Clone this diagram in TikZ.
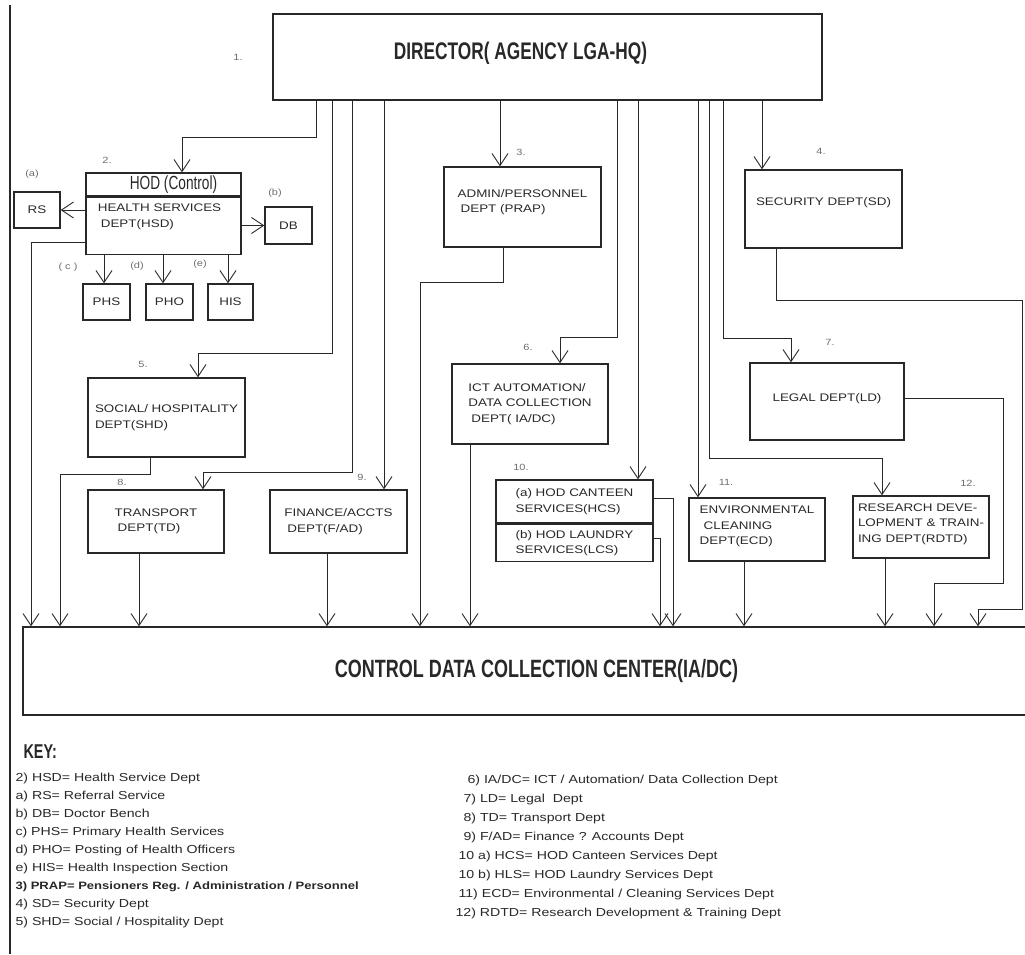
\documentclass[tikz,border=0pt]{standalone}
\usepackage{fontspec}
\setmainfont{Liberation Sans}[FakeStretch=1.22]
\newfontfamily\condfont{Liberation Sans}[FakeStretch=0.72]
\usepackage{tikz}
\usetikzlibrary{arrows.meta,positioning}
\usepackage{xcolor}
\definecolor{orgline}{RGB}{40,40,40}
\definecolor{orgnum}{RGB}{110,110,110}
\tikzstyle{arrow} = [line width=0.9pt, color=orgline, -{Straight Barb[length=12pt,width=16pt]}]
\tikzstyle{dept} = [rectangle, draw=orgline, line width=1.4pt, inner sep=3pt, align=left, text=orgline, font=\fontsize{11}{15.5}\selectfont]
\tikzstyle{num} = [text=orgnum, font=\fontsize{9}{10}\selectfont]
\tikzstyle{keytext} = [anchor=north west, align=left, text=orgline, font=\fontsize{11.6}{18}\selectfont]

\begin{document}
\begin{tikzpicture}[x=1pt, y=-1pt]
    \useasboundingbox (0,0) rectangle (1025,954);
    \draw[line width=1.3pt, color=orgline] (10,5) -- (10,954);

    % Nodes
    \node[dept, minimum width=549pt, minimum height=86pt, align=center, text depth=12pt, font=\condfont\bfseries\fontsize{24}{28}\selectfont] (dir) at (547.5,57) {DIRECTOR( AGENCY LGA-HQ)\hspace*{54pt}};
    \node[dept, minimum width=155pt, minimum height=23pt, inner ysep=1pt, font=\condfont\fontsize{19}{20}\selectfont] (hod) at (163.5,184.5) {\hspace*{20pt}HOD (Control)};
    \node[dept, minimum width=155pt, minimum height=57pt, text depth=20pt, below=0pt of hod] (hsd) {HEALTH SERVICES\hspace*{8pt}\\\hspace*{3pt}DEPT(HSD)};
    \node[dept, minimum width=46pt, minimum height=36pt] (rs) at (37,210) {RS};
    \node[dept, minimum width=47pt, minimum height=37pt] (db) at (288.5,225.5) {DB};
    \node[dept, minimum width=47pt, minimum height=36pt] (phs) at (106.5,302) {PHS};
    \node[dept, minimum width=47pt, minimum height=36pt] (pho) at (169.5,302) {PHO};
    \node[dept, minimum width=45pt, minimum height=36pt] (his) at (230.5,302) {HIS};
    \node[dept, minimum width=157pt, minimum height=80pt, text depth=12pt] (prap) at (522.5,207) {ADMIN/PERSONNEL\\\hspace*{3pt}DEPT (PRAP)};
    \node[dept, minimum width=157pt, minimum height=78pt, text depth=14pt] (sd) at (823.5,209) {SECURITY DEPT(SD)};
    \node[dept, minimum width=157pt, minimum height=79pt] (shd) at (166.5,417.5) {SOCIAL/ HOSPITALITY\\DEPT(SHD)};
    \node[dept, minimum width=156pt, minimum height=80pt] (ict) at (530,404) {ICT AUTOMATION/\\DATA COLLECTION\\\hspace*{3pt}DEPT( IA/DC)};
    \node[dept, minimum width=154pt, minimum height=77pt, text depth=8pt] (ld) at (827,401.5) {LEGAL DEPT(LD)};
    \node[dept, minimum width=136pt, minimum height=63pt] (td) at (156,521.5) {TRANSPORT\\\hspace*{3pt}DEPT(TD)};
    \node[dept, minimum width=137pt, minimum height=63pt] (fad) at (338.5,521.5) {FINANCE/ACCTS\\\hspace*{3pt}DEPT(F/AD)};
    \node[dept, minimum width=157pt, minimum height=43pt] (hcs) at (574.5,501.5) {(a) HOD CANTEEN\\SERVICES(HCS)};
    \node[dept, minimum width=157pt, minimum height=37pt, inner ysep=1pt, below=0pt of hcs] (lcs) {(b) HOD LAUNDRY\\SERVICES(LCS)};
    \node[dept, minimum width=136pt, minimum height=63pt, text depth=8pt] (ecd) at (757,529.5) {ENVIRONMENTAL\\\hspace*{4pt}CLEANING\\DEPT(ECD)};
    \node[dept, minimum width=136pt, minimum height=62pt, text depth=8pt] (rdtd) at (921,527) {RESEARCH DEVE-\\LOPMENT \& TRAIN-\\ING DEPT(RDTD)};
    \node[dept, minimum width=1007pt, minimum height=88pt, align=center, font=\condfont\bfseries\fontsize{25}{28}\selectfont] (cdc) at (526.5,671) {\hspace*{20pt}CONTROL DATA COLLECTION CENTER(IA/DC)};

    % Numbers
    \node[num] (n1) at (238,57) {1.};
    \node[num] (n2) at (107,160) {2.};
    \node[num] (na) at (32,174) {(a)};
    \node[num] (nb) at (275,193) {(b)};
    \node[num] (nc) at (68,267) {( c )};
    \node[num] (nd) at (137,266) {(d)};
    \node[num] (ne) at (200,264) {(e)};
    \node[num] (n3) at (521,152) {3.};
    \node[num] (n4) at (821,151) {4.};
    \node[num] (n5) at (143,364) {5.};
    \node[num] (n6) at (528,347) {6.};
    \node[num] (n7) at (830,342) {7.};
    \node[num] (n8) at (122,482) {8.};
    \node[num] (n9) at (362,477) {9.};
    \node[num] (n10) at (521,467) {10.};
    \node[num] (n11) at (726,482) {11.};
    \node[num] (n12) at (968,483) {12.};

    % Arrows from the director
    \draw[arrow] (dir.south -| 316,0) -- (316,137) -- (182,137) -- (hod.north -| 182,0);
    \draw[arrow] (dir.south -| 332,0) -- (332,353) -- (198,353) -- (shd.north -| 198,0);
    \draw[arrow] (dir.south -| 352,0) -- (352,472) -- (203,472) -- (td.north -| 203,0);
    \draw[arrow] (dir.south -| 384,0) -- (fad.north -| 384,0);
    \draw[arrow] (dir.south -| 500,0) -- (prap.north -| 500,0);
    \draw[arrow] (dir.south -| 617,0) -- (617,337) -- (560,337) -- (ict.north -| 560,0);
    \draw[arrow] (dir.south -| 638,0) -- (hcs.north -| 638,0);
    \draw[arrow] (dir.south -| 698,0) -- (ecd.north -| 698,0);
    \draw[arrow] (dir.south -| 709,0) -- (709,458) -- (882,458) -- (rdtd.north -| 882,0);
    \draw[arrow] (dir.south -| 723,0) -- (723,338) -- (791,338) -- (ld.north -| 791,0);
    \draw[arrow] (dir.south -| 762,0) -- (sd.north -| 762,0);

    % Health services units
    \draw[arrow] (hsd.west |- rs.east) -- (rs.east);
    \draw[arrow] (hsd.east |- db.west) -- (db.west);
    \draw[arrow] (hsd.south -| 104,0) -- (phs.north -| 104,0);
    \draw[arrow] (hsd.south -| 163,0) -- (pho.north -| 163,0);
    \draw[arrow] (hsd.south -| 228,0) -- (his.north -| 228,0);

    % Arrows into the data collection center
    \draw[arrow] (hsd.west |- 0,242) -- (31,242) -- (cdc.north -| 31,0);
    \draw[arrow] (shd.south -| 150,0) -- (150,474) -- (60,474) -- (cdc.north -| 60,0);
    \draw[arrow] (td.south -| 139,0) -- (cdc.north -| 139,0);
    \draw[arrow] (fad.south -| 327,0) -- (cdc.north -| 327,0);
    \draw[arrow] (prap.south -| 503,0) -- (503,282) -- (420,282) -- (cdc.north -| 420,0);
    \draw[arrow] (ict.south -| 470,0) -- (cdc.north -| 470,0);
    \draw[arrow] (hcs.east |- 0,498) -- (673,498) -- (cdc.north -| 673,0);
    \draw[arrow] (lcs.east |- 0,538) -- (660,538) -- (cdc.north -| 660,0);
    \draw[arrow] (ecd.south -| 744,0) -- (cdc.north -| 744,0);
    \draw[arrow] (rdtd.south -| 885,0) -- (cdc.north -| 885,0);
    \draw[arrow] (ld.east |- 0,398) -- (1003,398) -- (1003,583) -- (934,583) -- (cdc.north -| 934,0);
    \draw[arrow] (sd.south -| 776,0) -- (776,300) -- (1022,300) -- (1022,609) -- (978,609) -- (cdc.north -| 978,0);

    % Key
    \node[anchor=west, text=orgline, font=\condfont\bfseries\fontsize{20}{22}\selectfont] (key) at (20,752) {KEY:};
    \node[keytext] (keyleft) at (12,770) {2) HSD= Health Service Dept\\
        a) RS= Referral Service\\
        b) DB= Doctor Bench\\
        c) PHS= Primary Health Services\\
        d) PHO= Posting of Health Officers\\
        e) HIS= Health Inspection Section\\
        {\fontsize{10.7}{18}\selectfont\bfseries 3) PRAP= Pensioners Reg. / Administration / Personnel}\\
        4) SD= Security Dept\\
        5) SHD= Social / Hospitality Dept};
    \node[keytext, font=\fontsize{11.6}{19}\selectfont] (keyright) at (452,772) {\hspace*{12pt}6) IA/DC= ICT / Automation/ Data Collection Dept\\
        \hspace*{8pt}7) LD= Legal\ \ Dept\\
        \hspace*{8pt}8) TD= Transport Dept\\
        \hspace*{8pt}9) F/AD= Finance ? Accounts Dept\\
        \hspace*{3pt}10 a) HCS= HOD Canteen Services Dept\\
        \hspace*{3pt}10 b) HLS= HOD Laundry Services Dept\\
        \hspace*{3pt}11) ECD= Environmental / Cleaning Services Dept\\
        12) RDTD= Research Development \& Training Dept};
\end{tikzpicture}
\end{document}
